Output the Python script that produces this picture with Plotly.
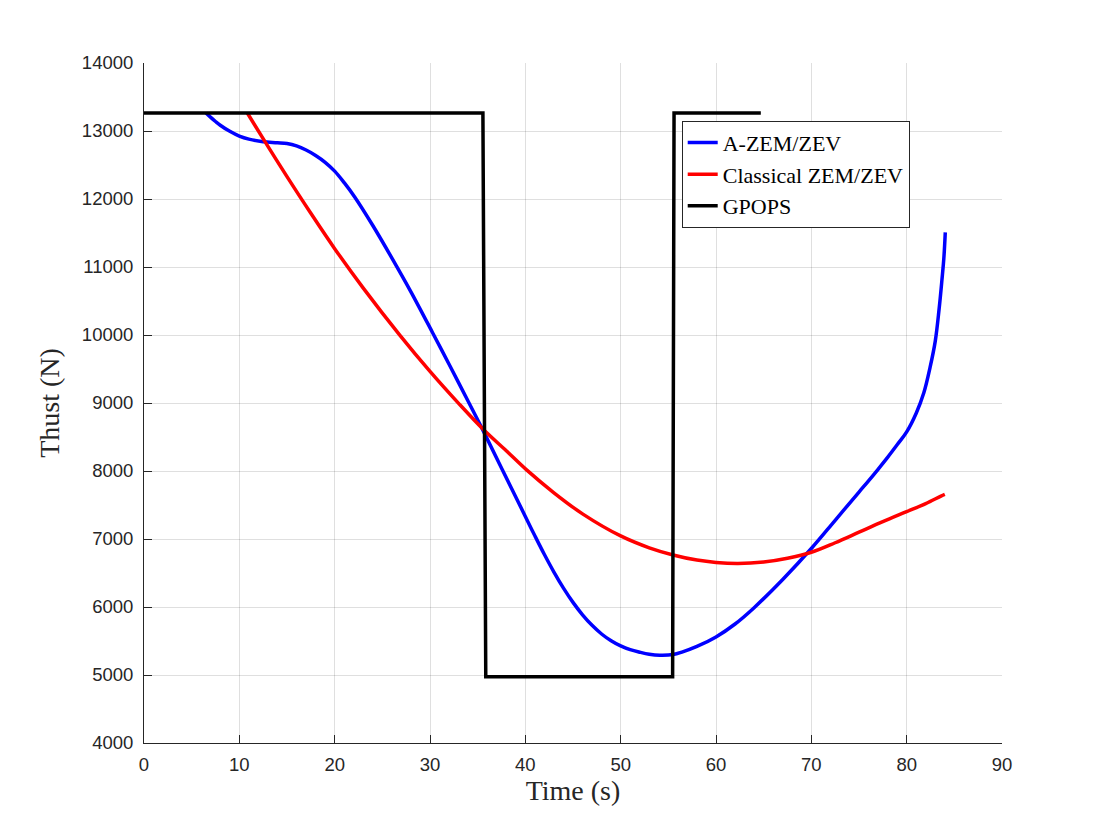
import plotly.graph_objects as go

# A-ZEM/ZEV thrust history
t_azem = [6.5, 7.0, 7.5, 8.0, 9.0, 10.0, 11.0, 12.5, 14.0, 15.0, 16.0, 17.0, 18.0, 19.0,
          20.0, 21.0, 22.1, 24.0, 26.5, 28.0, 30.3, 32.0, 34.0, 35.6, 37.6, 40.0, 41.0,
          42.0, 43.0, 44.0, 45.0, 46.0, 47.0, 48.0, 49.0, 50.0, 51.0, 52.0, 53.0, 54.1,
          55.5, 56.5, 58.0, 60.0, 62.0, 64.0, 67.0, 70.0, 72.5, 75.0, 76.0, 77.0, 78.0,
          79.0, 80.0, 81.0, 81.8, 82.45, 83.0, 83.4, 83.7, 83.9, 84.05]
f_azem = [13265, 13200, 13140, 13085, 12995, 12925, 12880, 12843, 12828, 12815, 12780,
          12720, 12640, 12540, 12410, 12240, 12030, 11610, 11010, 10635, 10026, 9570, 9026,
          8586, 8016, 7332, 7047, 6772, 6514, 6278, 6068, 5885, 5730, 5603, 5503, 5427,
          5372, 5335, 5305, 5290, 5300, 5340, 5420, 5560, 5750, 5990, 6405, 6860, 7275,
          7690, 7855, 8025, 8200, 8385, 8575, 8850, 9150, 9520, 9910, 10378, 10810, 11130,
          11510]

# classical ZEM/ZEV
t_zem = [10.84, 13.0, 15.0, 17.5, 20.0, 23.0, 26.85, 30.0, 33.0, 35.6, 38.0, 40.1, 43.0,
         46.0, 50.0, 53.0, 55.5, 58.0, 60.0, 62.3, 65.0, 67.5, 70.0, 72.5, 75.0, 77.5,
         80.0, 82.0, 83.6, 84.0]
f_zem = [13265, 12773, 12329, 11790, 11270, 10690, 9995, 9465, 8995, 8610, 8298, 8020,
         7680, 7370, 7045, 6870, 6765, 6690, 6655, 6640, 6662, 6718, 6805, 6945, 7100,
         7255, 7402, 7520, 7630, 7655]

# GPOPS bang-bang solution
t_gpops = [0, 35.55, 35.85, 55.45, 55.6, 64.7]
f_gpops = [13265, 13265, 4975, 4975, 13265, 13265]

serif = "Liberation Serif"
sans = "Liberation Sans"
axis_col = "#262626"

fig = go.Figure()
fig.add_trace(go.Scatter(x=t_azem, y=f_azem, mode="lines", name="A-ZEM/ZEV",
                         line=dict(color="#0000ff", width=3.5, shape="spline", smoothing=1.0)))
fig.add_trace(go.Scatter(x=t_zem, y=f_zem, mode="lines", name="Classical ZEM/ZEV",
                         line=dict(color="#ff0000", width=3.5, shape="spline", smoothing=1.0)))
fig.add_trace(go.Scatter(x=t_gpops, y=f_gpops, mode="lines", name="GPOPS",
                         line=dict(color="#000000", width=3.5)))

axis_common = dict(
    showgrid=True, gridcolor="rgba(38,38,38,0.15)", gridwidth=1,
    zeroline=False, showline=True, linecolor=axis_col, linewidth=1,
    ticks="inside", ticklen=8, tickcolor=axis_col, tickformat="d",
    tickfont=dict(family=sans, size=18.5, color=axis_col),
)

fig.update_xaxes(range=[0, 90], dtick=10, ticklabelstandoff=5, **axis_common,
                 title=dict(text="Time (s)", font=dict(family=serif, size=28, color=axis_col),
                            standoff=2))
fig.update_yaxes(range=[4000, 14000], dtick=1000, ticklabelstandoff=6, **axis_common,
                 title=dict(text="Thust (N)", font=dict(family=serif, size=28, color=axis_col),
                            standoff=14))

# page body adds an 8px offset, so the margins are trimmed by that much
fig.update_layout(
    width=1100, height=828,
    margin=dict(l=136, r=106, t=55, b=93),
    plot_bgcolor="white", paper_bgcolor="white",
    legend=dict(x=0.6267, y=0.915, xanchor="left", yanchor="top",
                bgcolor="white", bordercolor=axis_col, borderwidth=1,
                font=dict(family=serif, size=22, color="black")),
)

fig.write_html("out.html")
